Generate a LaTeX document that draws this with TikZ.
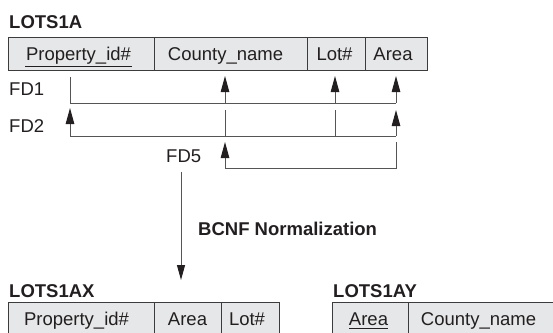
\documentclass[tikz,border=0pt]{standalone}
\usepackage{fontspec}
\setmainfont{Liberation Sans}
\usetikzlibrary{arrows.meta}
\definecolor{cellgray}{HTML}{E6E7E8}
\definecolor{edgegray}{HTML}{3C3C3C}
\definecolor{linegray}{HTML}{555555}
\definecolor{ink}{HTML}{231F20}
% shift a cell's text left by #1 (box shrinks by 2*#1, centring halves it)
\newcommand\ShiftTxt[2]{\hspace*{-#1}\hspace*{-#1}#2}
\tikzset{
  cell/.style={draw=edgegray, fill=cellgray, line width=1pt, minimum height=33pt,
    inner sep=0pt, text height=13pt, text depth=0pt, text=ink},
  lbl/.style={anchor=base west, inner sep=0pt, text=ink},
  ttl/.style={lbl, font=\fontsize{18.5}{22}\selectfont\bfseries},
  ln/.style={draw=linegray, line width=1pt},
  ar/.style={ln, -{Triangle[length=16pt,width=8.5pt,color=ink]}},
  uline/.style={draw=ink, line width=1pt}
}
\begin{document}
\begin{tikzpicture}[x=1pt,y=-1pt,font=\fontsize{18.5}{22}\selectfont]
\path[use as bounding box, clip] (0,0) rectangle (553,332);
% top relation
\node[ttl] (t1) at (9,28) {LOTS1A};
\node[cell, minimum width=146pt] (prop) at (81,53.5) {\ShiftTxt{2.5pt}{Property\_id\#}};
\node[cell, minimum width=153pt] (county) at (230.5,53.5) {\ShiftTxt{5pt}{County\_name}};
\node[cell, minimum width=58pt] (lot) at (336,53.5) {\ShiftTxt{1.5pt}{Lot\#}};
\node[cell, minimum width=62pt] (area) at (396,53.5) {\ShiftTxt{3pt}{Area}};
\draw[uline] (25,66) -- (132,66);
% FD labels
\node[lbl] (fd1) at (9,95) {FD1};
\node[lbl] (fd2) at (9,132) {FD2};
\node[lbl] (fd5) at (166,162) {FD5};
% FD1
\coordinate (a1) at (70,77);
\coordinate (b1) at (396,103);
\draw[ln] (a1) |- (b1);
\coordinate (c1) at (225,103);
\coordinate (c1t) at (225,76);
\coordinate (l1) at (335,103);
\coordinate (l1t) at (335,76);
\coordinate (r1t) at (396,76);
\draw[ar] (c1) -- (c1t);
\draw[ar] (l1) -- (l1t);
\draw[ar] (b1) -- (r1t);
% FD2
\coordinate (p2) at (70,136);
\coordinate (p2t) at (70,108);
\coordinate (r2) at (396,136);
\coordinate (r2t) at (396,110);
\coordinate (c2) at (225,110);
\coordinate (l2) at (335,110);
\draw[ln] (p2) -- (r2);
\draw[ar] (p2) -- (p2t);
\draw[ar] (r2) -- (r2t);
\draw[ln] (c2) -- (c2 |- p2);
\draw[ln] (l2) -- (l2 |- p2);
% FD5
\coordinate (c5) at (225,168);
\coordinate (c5t) at (225,142);
\coordinate (r5) at (396,142);
\draw[ar] (c5) -- (c5t);
\draw[ln] (c5) -| (r5);
% normalization arrow
\coordinate (n1) at (181,172);
\coordinate (n2) at (181,280);
\draw[ln, -{Triangle[length=15pt,width=8pt,color=ink]}] (n1) -- (n2);
\node[lbl, font=\fontsize{18.5}{22}\selectfont\bfseries] (bcnf) at (198,235) {BCNF Normalization};
% bottom relations
\node[ttl] (t2) at (9,297) {LOTS1AX};
\node[cell, minimum width=146pt] (prop2) at (81,318.5) {\ShiftTxt{4.5pt}{Property\_id\#}};
\node[cell, minimum width=67pt] (area2) at (187.5,318.5) {Area};
\node[cell, minimum width=58pt] (lot2) at (250,318.5) {\ShiftTxt{3pt}{Lot\#}};
\node[ttl] (t3) at (333,297) {LOTS1AY};
\node[cell, minimum width=76pt] (area3) at (370,318.5) {\ShiftTxt{1.5pt}{Area}};
\node[cell, minimum width=157pt] (county3) at (486.5,318.5) {\ShiftTxt{8pt}{County\_name}};
\draw[uline] (349,328) -- (388,328);
\end{tikzpicture}
\end{document}
